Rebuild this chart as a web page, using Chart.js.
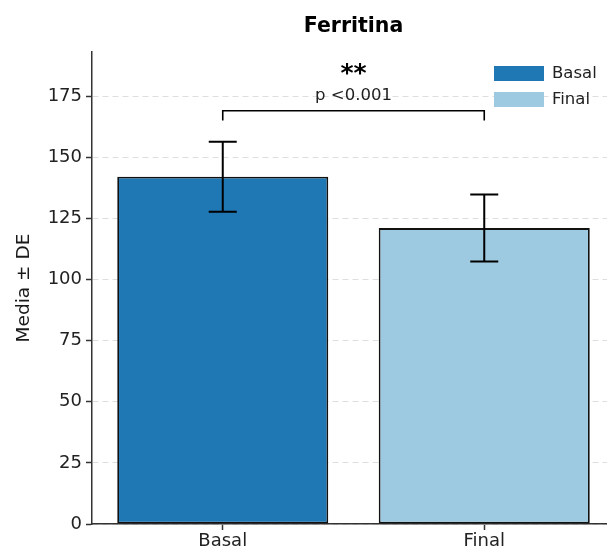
<!DOCTYPE html>
<html>
<head>
<meta charset="utf-8">
<script src="https://cdn.jsdelivr.net/npm/chart.js@4"></script>
<style>
  html, body { margin: 0; padding: 0; background: #fff; overflow: hidden; }
  #wrap { width: 620px; height: 556px; }
</style>
</head>
<body>
<div id="wrap"><canvas id="chart" width="620" height="556"></canvas></div>
<script>
var groups = ['Basal', 'Final'];
var means = [142, 121];
var sds = [14.3, 13.7];
var colors = ['#1f77b4', '#9ecae1'];
var yTicks = [0, 25, 50, 75, 100, 125, 150, 175];
var bracketY = [165, 169];
var sigStars = '**';
var pText = 'p <0.001';

var FONT = "'DejaVu Sans', sans-serif";

// error bars with caps
var errorBars = {
    id: 'errorBars',
    afterDatasetsDraw: function (chart) {
        var ctx = chart.ctx;
        var y = chart.scales.y;
        var meta = chart.getDatasetMeta(0);
        ctx.save();
        ctx.strokeStyle = '#000';
        ctx.lineWidth = 2;
        for (var i = 0; i < means.length; i++) {
            var x = meta.data[i].x;
            var top = y.getPixelForValue(means[i] + sds[i]);
            var bot = y.getPixelForValue(means[i] - sds[i]);
            ctx.beginPath();
            ctx.moveTo(x, top); ctx.lineTo(x, bot);
            ctx.moveTo(x - 14, top); ctx.lineTo(x + 14, top);
            ctx.moveTo(x - 14, bot); ctx.lineTo(x + 14, bot);
            ctx.stroke();
        }
        ctx.restore();
    }
};

// significance bracket, title, legend
var extras = {
    id: 'extras',
    afterDraw: function (chart) {
        var ctx = chart.ctx;
        var y = chart.scales.y;
        var meta = chart.getDatasetMeta(0);
        var area = chart.chartArea;
        var x1 = meta.data[0].x, x2 = meta.data[1].x;
        var yLow = y.getPixelForValue(bracketY[0]);
        var yHigh = y.getPixelForValue(bracketY[1]);
        ctx.save();
        ctx.strokeStyle = '#000';
        ctx.lineWidth = 1.6;
        ctx.beginPath();
        ctx.moveTo(x1, yLow); ctx.lineTo(x1, yHigh); ctx.lineTo(x2, yHigh); ctx.lineTo(x2, yLow);
        ctx.stroke();

        var mid = (x1 + x2) / 2;
        ctx.fillStyle = '#000';
        ctx.textAlign = 'center';
        ctx.textBaseline = 'middle';
        ctx.font = 'bold 25px ' + FONT;
        ctx.fillText(sigStars, mid, yHigh - 36);
        ctx.fillStyle = '#222';
        ctx.font = '16.5px ' + FONT;
        ctx.fillText(pText, mid, yHigh - 15);

        // title
        ctx.fillStyle = '#000';
        ctx.font = 'bold 20.5px ' + FONT;
        ctx.fillText('Ferritina', (area.left + area.right) / 2, 27);

        // legend
        ctx.textAlign = 'left';
        ctx.font = '16.5px ' + FONT;
        for (var i = 0; i < groups.length; i++) {
            var ly = 66 + i * 26;
            ctx.fillStyle = colors[i];
            ctx.fillRect(494, ly, 50, 15);
            ctx.fillStyle = '#222';
            ctx.fillText(groups[i], 552, ly + 8);
        }
        ctx.restore();
    }
};

new Chart(document.getElementById('chart'), {
    type: 'bar',
    data: {
        labels: groups,
        datasets: [{
            data: means,
            backgroundColor: colors,
            borderColor: '#111',
            borderWidth: 1.8,
            borderSkipped: false,
            barPercentage: 0.807,
            categoryPercentage: 1
        }]
    },
    options: {
        responsive: false,
        animation: false,
        layout: { padding: { top: 52, left: 0, right: 5, bottom: 0 } },
        plugins: {
            legend: { display: false },
            title: { display: false },
            tooltip: { enabled: false }
        },
        scales: {
            x: {
                grid: { display: true, offset: false, drawOnChartArea: false, tickLength: 6, tickColor: '#333', tickWidth: 1.5 },
                border: { color: '#333', width: 1.5 },
                ticks: { color: '#222', font: { family: FONT, size: 18 }, padding: 1 },
                afterFit: function (s) { s.height = 32; }
            },
            y: {
                min: 0,
                max: 193,
                afterBuildTicks: function (s) {
                    s.ticks = yTicks.map(function (v) { return { value: v }; });
                },
                grid: {
                    color: '#dedede',
                    tickBorderDash: [],
                    tickColor: '#333',
                    tickLength: 6,
                    tickWidth: 1.5
                },
                border: { color: '#333', width: 1.5, dash: [6, 4] },
                ticks: { color: '#222', font: { family: FONT, size: 18 }, padding: 4 },
                title: { display: true, text: 'Media ± DE', color: '#1a1a1a', font: { family: FONT, size: 18.5 }, padding: { top: 13, bottom: 0 } },
                afterFit: function (s) { s.width = 92; }
            }
        }
    },
    plugins: [errorBars, extras]
});
</script>
</body>
</html>
